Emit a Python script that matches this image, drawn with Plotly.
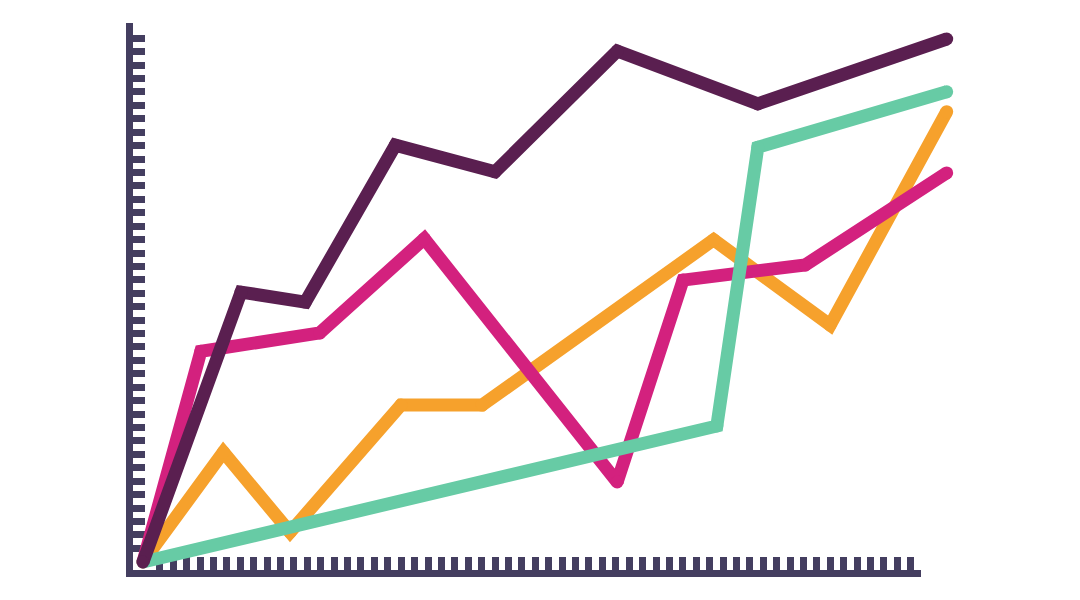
import plotly.graph_objects as go

# ---- data (arbitrary units: x 0..100, y 0..100) ----
purple_x = [0, 12.2, 20.2, 31.4, 43.8, 59.0, 76.5, 100]
purple_y = [0, 51.6, 49.7, 79.7, 74.6, 97.7, 87.6, 100]

magenta_x = [0, 7.2, 22.0, 35.0, 59.0, 67.2, 82.4, 100]
magenta_y = [0, 40.3, 43.8, 61.8, 15.3, 53.9, 56.8, 74.4]

orange_x = [0, 10.0, 18.3, 32.1, 42.2, 71.0, 85.5, 100]
orange_y = [0, 21.0, 5.7, 30.0, 30.0, 61.6, 45.3, 86.1]

green_x = [0, 71.4, 76.5, 100]
green_y = [0, 26.0, 79.3, 89.9]

# decorative axis tick positions (tick index units)
x_ticks = list(range(2, 59))
y_ticks = list(range(2, 41))

AXIS_COLOR = "#443e60"
W = 1080
H = 600
OFF = 8  # page body margin
LW = 13

fig = go.Figure()

# invisible trace on the decorative axes (x/y)
fig.add_trace(go.Scatter(x=[None], y=[None], xaxis="x", yaxis="y",
                         mode="markers", showlegend=False, hoverinfo="skip"))

series = [
    (orange_x, orange_y, "#f6a12c"),
    (magenta_x, magenta_y, "#d3217e"),
    (green_x, green_y, "#67cba5"),
    (purple_x, purple_y, "#5a1f50"),
]
for xs, ys, col in series:
    fig.add_trace(go.Scatter(
        x=xs, y=ys, xaxis="x2", yaxis="y2",
        mode="lines+markers",
        line=dict(color=col, width=LW),
        marker=dict(color=col, size=LW, line=dict(width=0)),
        showlegend=False, hoverinfo="skip", cliponaxis=False,
    ))

ox = 143 - OFF
oy = 562 - OFF
fig.update_layout(
    width=W, height=H,
    margin=dict(l=0, r=0, t=0, b=0),
    paper_bgcolor="white",
    plot_bgcolor="rgba(0,0,0,0)",
    showlegend=False,
    xaxis=dict(
        domain=[(132.5 - OFF) / W, (921 - OFF) / W], anchor="y",
        range=[-0.0365, 58.76],
        showline=True, linewidth=7, linecolor=AXIS_COLOR,
        ticks="inside", tickvals=x_ticks, ticklen=12.5, tickwidth=6.5,
        tickcolor=AXIS_COLOR, showticklabels=False,
        showgrid=False, zeroline=False, fixedrange=True,
    ),
    yaxis=dict(
        domain=[(H - 569.5 + OFF) / H, (H - 23 + OFF) / H], anchor="x",
        range=[0.419, 41.14],
        showline=True, linewidth=7, linecolor=AXIS_COLOR,
        ticks="inside", tickvals=y_ticks, ticklen=12.5, tickwidth=6.5,
        tickcolor=AXIS_COLOR, showticklabels=False,
        showgrid=False, zeroline=False, fixedrange=True,
    ),
    xaxis2=dict(
        domain=[0, 1], anchor="y2",
        range=[-ox / 8.037, -ox / 8.037 + W / 8.037],
        visible=False, fixedrange=True,
    ),
    yaxis2=dict(
        domain=[0, 1], anchor="x2",
        range=[-(H - oy) / 5.23, oy / 5.23],
        visible=False, fixedrange=True,
    ),
)

fig.write_html("out.html")
